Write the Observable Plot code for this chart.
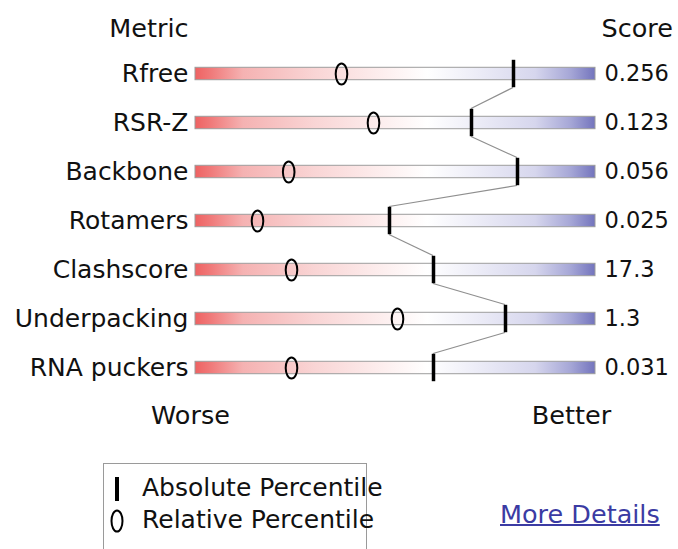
<!DOCTYPE html>
<html>
<head>
<meta charset="utf-8">
<script src="https://cdn.jsdelivr.net/npm/d3@7"></script>
<script src="https://cdn.jsdelivr.net/npm/@observablehq/plot@0.6"></script>
<style>
  html, body { margin: 0; padding: 0; background: #fff; }
  body { width: 678px; height: 549px; position: relative; overflow: hidden; font-family: "DejaVu Sans", sans-serif; }
  #chart { position: absolute; left: 0; top: 0; }
  #legend { position: absolute; left: 103px; top: 463px; width: 264px; height: 110px; border: 1px solid #9a9a9a; box-sizing: border-box; }
  .lg-row { position: absolute; left: 0; height: 30px; font-size: 25px; color: #111; white-space: nowrap; }
  .lg-row svg { position: absolute; left: 1px; top: 0; }
  .lg-row span { position: absolute; left: 38px; }
  #more { position: absolute; left: 500px; top: 499px; font-size: 25.5px; color: #3b3ba3; text-decoration: underline; text-decoration-thickness: 2px; }
</style>
</head>
<body>
<div id="chart"></div>
<div id="legend">
  <div class="lg-row" style="top:10px">
    <svg width="24" height="30"><line x1="12" y1="3" x2="12" y2="27" stroke="#000" stroke-width="4"/></svg>
    <span style="top:-1px">Absolute Percentile</span>
  </div>
  <div class="lg-row" style="top:42px">
    <svg width="24" height="30"><ellipse cx="12" cy="15" rx="5.5" ry="10.5" fill="none" stroke="#000" stroke-width="2"/></svg>
    <span style="top:-1px">Relative Percentile</span>
  </div>
</div>
<div id="more">More Details</div>
<script>
// ---- data ----
const metrics = ["Rfree", "RSR-Z", "Backbone", "Rotamers", "Clashscore", "Underpacking", "RNA puckers"];
const scores = ["0.256", "0.123", "0.056", "0.025", "17.3", "1.3", "0.031"];
const absolutePct = [79.5, 69, 80.5, 48.5, 59.5, 77.5, 59.5];
const relativePct = [36.5, 44.5, 23.3, 15.5, 24, 50.5, 24];

const rows = metrics.map((m, i) => ({metric: m, score: scores[i], abs: absolutePct[i], rel: relativePct[i]}));

const FONT = "DejaVu Sans, sans-serif";
const tickHalf = 14;

// ellipse symbol for relative percentile
const ellipse = {
  draw(ctx) {
    const rx = 5.8, ry = 10.5, k = 0.5523;
    ctx.moveTo(rx, 0);
    ctx.bezierCurveTo(rx, ry * k, rx * k, ry, 0, ry);
    ctx.bezierCurveTo(-rx * k, ry, -rx, ry * k, -rx, 0);
    ctx.bezierCurveTo(-rx, -ry * k, -rx * k, -ry, 0, -ry);
    ctx.bezierCurveTo(rx * k, -ry, rx, -ry * k, rx, 0);
    ctx.closePath();
  }
};

// connector from bottom of one absolute tick to top of the next
function connector(index, scales) {
  const x = scales.x, y = scales.y;
  const bw = y.bandwidth ? y.bandwidth() : 0;
  const g = d3.create("svg:g").attr("stroke", "#8f8f8f").attr("stroke-width", 1.2).attr("fill", "none");
  for (let i = 0; i < rows.length - 1; i++) {
    g.append("line")
      .attr("x1", x(rows[i].abs)).attr("y1", y(rows[i].metric) + bw / 2 + tickHalf)
      .attr("x2", x(rows[i + 1].abs)).attr("y2", y(rows[i + 1].metric) + bw / 2 - tickHalf);
  }
  return g.node();
}

const H = 450, MT = 47, MB = 56;
const step = (H - MT - MB) / metrics.length;
const barH = 13;

const svg = Plot.plot({
  width: 678,
  height: H,
  marginLeft: 195,
  marginRight: 83,
  marginTop: MT,
  marginBottom: MB,
  style: {fontFamily: FONT, background: "transparent", overflow: "visible"},
  x: {domain: [0, 100], axis: null},
  y: {domain: metrics, padding: 0, axis: null},
  marks: [
    Plot.barX(rows, {x1: 0, x2: 100, y: "metric", fill: "url(#sliderGrad)", stroke: "#9c9c9c", strokeWidth: 1,
      insetTop: (step - barH) / 2, insetBottom: (step - barH) / 2}),
    connector,
    Plot.dot(rows, {x: "rel", y: "metric", symbol: ellipse, stroke: "#000", strokeWidth: 2, fill: "none"}),
    Plot.tickX(rows, {x: "abs", y: "metric", stroke: "#000", strokeWidth: 3.5,
      insetTop: step / 2 - tickHalf, insetBottom: step / 2 - tickHalf}),
    Plot.text(rows, {x: 0, y: "metric", text: "metric", textAnchor: "end", dx: -7, fontSize: 25, fill: "#111"}),
    Plot.text(rows, {x: 100, y: "metric", text: "score", textAnchor: "start", dx: 9, fontSize: 22.5, fill: "#111"}),
    Plot.text(["Metric"], {frameAnchor: "top-left", lineAnchor: "middle", textAnchor: "end", dx: -7, dy: -19, fontSize: 25.5, fill: "#111"}),
    Plot.text(["Score"], {frameAnchor: "top-right", lineAnchor: "middle", textAnchor: "start", dx: 6, dy: -19, fontSize: 25.5, fill: "#111"}),
    Plot.text(["Worse"], {frameAnchor: "bottom-left", lineAnchor: "middle", textAnchor: "middle", dx: -5, dy: 21, fontSize: 25.5, fill: "#111"}),
    Plot.text(["Better"], {frameAnchor: "bottom-right", lineAnchor: "middle", textAnchor: "middle", dx: -24, dy: 21, fontSize: 25.5, fill: "#111"})
  ]
});

// gradient definition used by the slider bars
const defs = d3.select(svg).insert("defs", ":first-child");
const grad = defs.append("linearGradient").attr("id", "sliderGrad").attr("x1", 0).attr("x2", 1).attr("y1", 0).attr("y2", 0);
[[0, "#ee6262"], [0.04, "#f07a7a"], [0.12, "#f5b2b2"], [0.3, "#f9d5d5"], [0.48, "#fdf0f0"], [0.58, "#ffffff"],
 [0.72, "#eaeaf6"], [0.85, "#d6d6ed"], [0.94, "#a5a6d6"], [1, "#7374bd"]]
  .forEach(([o, c]) => grad.append("stop").attr("offset", o).attr("stop-color", c));

document.getElementById("chart").appendChild(svg);
</script>
</body>
</html>
